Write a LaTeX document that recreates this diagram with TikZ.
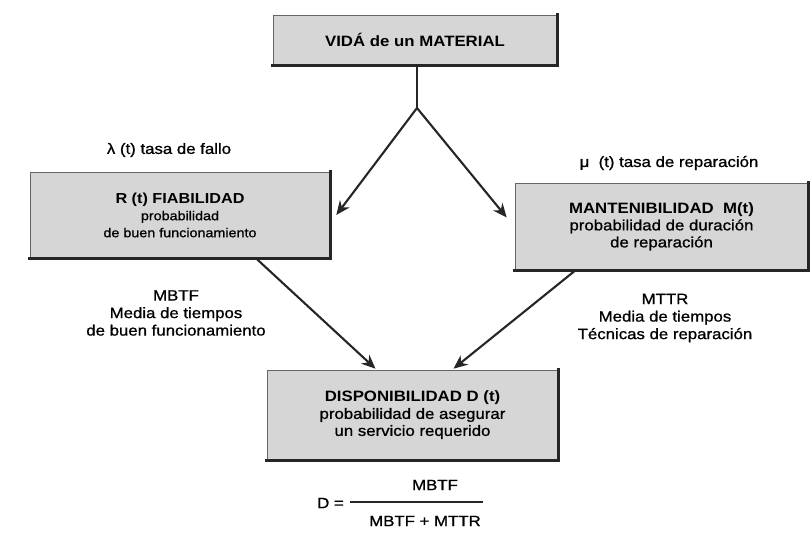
\documentclass[tikz,border=0pt]{standalone}
\usepackage{fontspec}
\setmainfont[FakeStretch=1.12, UprightFeatures={FakeBold=0.9}]{Liberation Sans}
\usetikzlibrary{arrows.meta}
\tikzset{
  gbox/.style={rectangle, draw=black!60, line width=0.6pt, fill=black!16, inner sep=0pt, align=center},
  edgeline/.style={line width=2.6pt, black!85, line cap=rect},
  conn/.style={line width=2.1pt, black!85, -{Stealth[length=14pt,width=12pt]}},
  stem/.style={line width=2.1pt, black!85},
  lbl/.style={align=center, inner sep=0pt, font=\fontsize{15}{17.5}\selectfont},
  boxtxt/.style={font=\fontsize{15}{17}\selectfont},
  smalltxt/.style={font=\fontsize{12.8}{17}\selectfont}
}
\begin{document}
\begin{tikzpicture}[x=1pt,y=-1pt]
\useasboundingbox[fill=white] (0,0) rectangle (812,536);

% boxes
\node[gbox, boxtxt, minimum width=284pt, minimum height=50pt] (top) at (415,40) {\textbf{VIDÁ de un MATERIAL}};
\node[gbox, smalltxt, minimum width=300pt, minimum height=86pt] (left) at (180,215)
  {{\fontsize{14.5}{17}\selectfont\textbf{R (t) FIABILIDAD}}\\probabilidad\\de buen funcionamiento};
\node[gbox, boxtxt, minimum width=293pt, minimum height=87pt] (right) at (661.5,226.5)
  {\textbf{MANTENIBILIDAD\ \ M(t)}\\probabilidad de duración\\de reparación};
\node[gbox, boxtxt, minimum width=291pt, minimum height=90pt] (bot) at (412.5,415)
  {\textbf{DISPONIBILIDAD D (t)}\\probabilidad de asegurar\\un servicio requerido};

% shadow edges
\foreach \b in {top,left,right,bot}{
  \draw[edgeline] (\b.north east) -- (\b.south east) -- (\b.south west);
}

% connectors
\coordinate (split) at (417,108);
\draw[stem] (top.south -| split) -- (split);
\draw[conn] (split) -- ([xshift=6pt]left.east);
\draw[conn] (split) -- ([xshift=-8pt,yshift=9pt]right.west);
\draw[conn] ([xshift=76pt]left.south) -- ([xshift=-37pt,yshift=1pt]bot.north);
\draw[conn] ([xshift=-86pt]right.south) -- ([xshift=41pt,yshift=1pt]bot.north);

% labels
\node[lbl] (lam) at (169,150) {λ (t) tasa de fallo};
\node[lbl] (mu) at (669,163) {μ\ \ (t) tasa de reparación};
\node[lbl] (mbtf) at (176,313) {MBTF\\Media de tiempos\\de buen funcionamiento};
\node[lbl] (mttr) at (665,318) {MTTR\\Media de tiempos\\Técnicas de reparación};

% formula
\node[lbl, anchor=east] (deq) at (344,503) {D =};
\node[lbl] (num) at (435,485) {MBTF};
\node[lbl] (den) at (425,521) {MBTF + MTTR};
\coordinate (barL) at (350,502);
\coordinate (barR) at (483,502);
\draw[line width=1.2pt, black!85] (barL) -- (barR);
\end{tikzpicture}
\end{document}
